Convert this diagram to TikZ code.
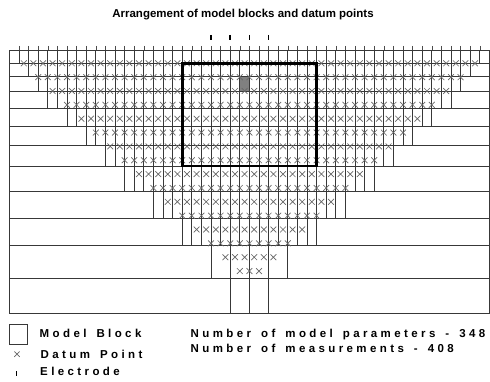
\documentclass[tikz,border=0pt]{standalone}
\usepackage{fontspec}
\setmainfont{Liberation Sans}
\newcommand\spacedtext[1]{\spacedstep#1\relax}
\def\spacedstep#1{\ifx\relax#1\else#1\kern3.4pt\expandafter\spacedstep\fi}
\begin{document}
\begin{tikzpicture}[x=1pt,y=-1pt,
  gridline/.style={line width=0.8pt, black!78},
  datum/.style={line width=0.65pt, black!60},
  etick/.style={line width=0.6pt, black!70},
  selelec/.style={line width=1.7pt, black},
  thickbox/.style={line width=2.6pt, black},
  legtext/.style={font=\bfseries\fontsize{11.5}{13}\selectfont, anchor=base west, inner sep=0pt},
  titletext/.style={font=\bfseries\fontsize{11.5}{13}\selectfont, anchor=base, inner sep=0pt}]
\useasboundingbox (0,0) rectangle (490,382);
\def\cx{249.4}
\def\sp{9.6}
% title
\node[titletext] (title) at (243,18) {Arrangement of model blocks and datum points};
% selected electrodes
\foreach \e in {-4,-2,0,2} \draw[selelec] ({\cx+\sp*\e},35) -- ({\cx+\sp*\e},40.5);
% shaded block
\fill[black!50] ({\cx-\sp},76.7) rectangle (\cx,91.7);
% electrode ticks
\foreach \e in {-24,...,24} \draw[etick] ({\cx+\sp*\e},46) -- ({\cx+\sp*\e},50.7);
% layer vertical lines
\foreach \ya/\yb/\E/\st in {50.7/63.3/24/1, 63.3/76.7/23/1, 76.7/91.7/22/1, 91.7/108.3/21/1, 108.3/126.7/19/1, 126.7/145.7/17/1, 145.7/166/15/1, 166/191/13/1, 191/218.3/10/1, 218.3/245/7/1, 245/278.3/4/2, 278.3/313.3/2/2} {
  \pgfmathtruncatemacro\m{-\E}
  \pgfmathtruncatemacro\mm{-\E+\st}
  \foreach \e in {\m,\mm,...,\E} \draw[gridline] ({\cx+\sp*\e},\ya) -- ({\cx+\sp*\e},\yb);
}
% horizontal layer lines
\foreach \y in {63.3,76.7,91.7,108.3,126.7,145.7,166,191,218.3,245,278.3}
  \draw[gridline] ({\cx-25*\sp},\y) -- ({\cx+25*\sp},\y);
\draw[gridline] ({\cx-25*\sp},50.7) rectangle ({\cx+25*\sp},313.3);
% datum points
\foreach \k in {1,...,16} {
  \pgfmathtruncatemacro\n{3*(17-\k)}
  \pgfmathsetmacro\yy{63.3+13.85*(\k-1)}
  \foreach \j in {1,...,\n} {
    \pgfmathsetmacro\xx{\cx+\sp*(\j-1-(\n-1)/2)}
    \draw[datum] (\xx-2.9,\yy-2.9) -- (\xx+2.9,\yy+2.9) (\xx-2.9,\yy+2.9) -- (\xx+2.9,\yy-2.9);
  }
}
% thick box
\draw[thickbox] ({\cx-7*\sp},63.3) rectangle ({\cx+7*\sp},166);
% legend
\draw[gridline] (9,324) rectangle (27,344);
\draw[datum] (14.3,351.5) -- (19.7,356.9) (14.3,356.9) -- (19.7,351.5);
\draw[selelec] (16.5,371) -- (16.5,375.5);
\node[legtext] (lmb) at (39.5,337.7) {\spacedtext{Model~Block}};
\node[legtext] (ldp) at (40.5,358) {\spacedtext{Datum~Point}};
\node[legtext] (lel) at (40,375.7) {\spacedtext{Electrode}};
\node[legtext] (lnp) at (190.5,337.7) {\spacedtext{Number~of~model~parameters~-~348}};
\node[legtext] (lnm) at (190.5,352.3) {\spacedtext{Number~of~measurements~-~408}};
\end{tikzpicture}
\end{document}
